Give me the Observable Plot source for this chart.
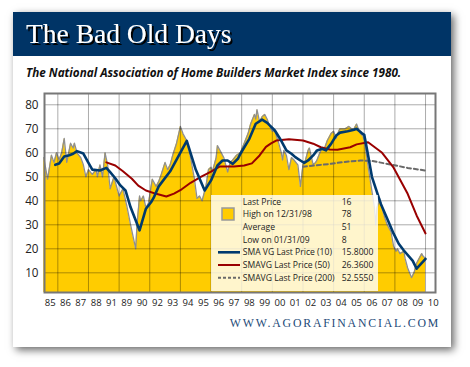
<!DOCTYPE html>
<html><head><meta charset="utf-8">
<script src="https://cdn.jsdelivr.net/npm/d3@7"></script>
<script src="https://cdn.jsdelivr.net/npm/@observablehq/plot@0.6"></script>
<style>
html,body{margin:0;padding:0;background:#fff;}
#page{position:relative;width:470px;height:367px;overflow:hidden;background:#fff;}
#card{position:absolute;left:13px;top:12px;width:438px;height:335px;background:#fff;box-shadow:3px 3px 8px rgba(0,0,0,0.6);}
#header{position:absolute;left:13px;top:12px;width:438px;height:44px;background:#003466;}
#chart{position:absolute;left:0;top:0;}
#overlay{position:absolute;left:0;top:0;}
</style>
</head><body>
<div id="page">
  <div id="card"></div>
  <div id="header"></div>
  <div id="chart"></div>
  <svg id="overlay" width="470" height="367">
    <defs>
      <filter id="shadow" x="-5%" y="-20%" width="115%" height="150%">
        <feDropShadow dx="2" dy="2" stdDeviation="0.6" flood-color="#000" flood-opacity="1"/>
      </filter>
    </defs>
  </svg>
</div>
<script>
// ---- data (monthly NAHB index) ----
const hmiMonths = ["1985-01","1985-04","1985-07","1985-09","1985-11","1986-01","1986-03","1986-05","1986-07","1986-10","1986-12","1987-01","1987-03","1987-06","1987-08","1987-10","1987-12","1988-03","1988-06","1988-07","1988-09","1988-11","1989-01","1989-03","1989-05","1989-08","1989-12","1990-03","1990-06","1990-09","1991-01","1991-02","1991-04","1991-05","1991-07","1991-09","1991-11","1992-02","1992-05","1992-07","1992-09","1992-12","1993-02","1993-04","1993-06","1993-09","1993-12","1994-02","1994-05","1994-08","1994-11","1995-01","1995-03","1995-05","1995-08","1995-10","1995-12","1996-01","1996-04","1996-05","1996-07","1996-10","1996-11","1997-01","1997-03","1997-05","1997-08","1997-11","1998-02","1998-05","1998-07","1998-10","1998-11","1998-12","1999-02","1999-04","1999-06","1999-08","1999-10","1999-12","2000-02","2000-05","2000-07","2000-08","2000-09","2000-11","2001-01","2001-03","2001-05","2001-08","2001-10","2001-12","2002-02","2002-04","2002-05","2002-08","2002-10","2002-11","2003-02","2003-05","2003-07","2003-10","2003-12","2004-02","2004-04","2004-05","2004-09","2004-12","2005-02","2005-04","2005-06","2005-08","2005-09","2005-11","2005-12","2006-02","2006-04","2006-06","2006-08","2006-09","2006-10","2006-12","2007-02","2007-04","2007-06","2007-09","2007-11","2008-01","2008-02","2008-04","2008-07","2008-08","2008-10","2009-01","2009-03","2009-05","2009-07","2009-09","2009-10","2009-12"];
const hmiValues = [58,49,59,56,60,57,60,66,56,64,62,64,60,58,55,50,53,51,53,50,55,50,60,55,45,50,42,45,38,30,20,30,42,40,42,37,39,49,46,48,51,56,53,55,59,64,71,68,65,58,49,41,42,40,46,53,54,52,58,63,61,58,56,52,56,57,59,60,64,68,72,76,74,78,73,75,76,74,71,69,69,64,60,57,61,59,53,58,57,55,46,55,57,61,62,55,56,57,61,62,65,68,69,66,69,70,70,71,70,70,72,69,68,67,65,58,51,44,37,30,37,41,37,33,30,27,21,19,20,18,19,16,12,8,10,14,16,18,17,16];

const sma10Months = ["1985-10","1986-01","1986-05","1986-09","1986-12","1987-03","1987-08","1987-12","1988-03","1988-09","1989-02","1989-05","1989-09","1990-01","1990-05","1990-09","1991-04","1991-09","1992-01","1992-03","1992-07","1993-04","1994-05","1994-12","1995-07","1995-12","1996-05","1996-09","1997-01","1997-05","1997-09","1997-11","1998-06","1998-11","1999-04","1999-08","1999-10","2000-02","2000-07","2000-11","2001-03","2001-06","2001-10","2002-01","2002-04","2002-08","2002-11","2003-03","2003-06","2003-10","2004-02","2004-05","2004-11","2005-04","2005-06","2005-10","2005-12","2006-03","2006-06","2007-01","2007-06","2007-11","2008-03","2008-07","2009-02","2009-05","2009-12"];
const sma10Values = [55,55.5,58.5,59,59.6,60.7,59.7,55.8,53,52.6,53.7,51.9,49.4,46.4,44.3,37.3,27.7,36.7,39.4,41.2,46,52.3,65,53,44.3,48.5,54.7,56.8,56.8,55.4,57.5,59.6,65.8,72.1,73.8,72.5,71.4,69.3,65,61,59.6,58.2,56.8,55.8,56.8,58.9,61,61.7,61,63.7,67.2,68.4,69,69.6,70,68.2,67.5,59,50,38.7,32.5,26.3,22.1,19.3,15,11.7,15.8];

const sma50Months = ["1989-02","1989-09","1990-03","1990-10","1991-03","1991-09","1992-05","1993-01","1993-07","1994-01","1994-08","1995-04","1995-12","1996-07","1997-06","1998-02","1998-08","1999-02","1999-07","1999-11","2000-03","2001-01","2001-12","2002-08","2003-02","2003-09","2004-03","2004-07","2005-01","2005-06","2006-03","2007-02","2007-11","2008-10","2009-05","2009-12"];
const sma50Values = [56,54.7,52.3,49.2,46.3,44.3,42.9,41.8,43,44.8,47.5,50,52.2,54.3,54.3,54.7,55.6,58.9,62.5,63.9,65.1,65.6,65.1,63.8,62.3,61.4,61.3,61.7,62.3,63.5,64.4,60,53.8,42.9,33.9,26.4];

const sma200Months = ["2001-12","2003-10","2004-07","2005-09","2006-06","2007-09","2008-10","2009-12"];
const sma200Values = [54.2,55.4,56.1,56.8,56.6,55.1,53.7,52.6];

const xTickLabels = ["85","86","87","88","91","89","90","92","93","94","95","96","97","98","99","00","01","02","03","04","05","06","07","08","09","10"];
const yTicks = [10,20,30,40,50,60,70,80];
const gridYears = [1986,1988,1990,1992,1994,1996,1998,2000,2002,2004,2006,2008,2010];

const legendLabels = ["Last Price","High on 12/31/98","Average","Low on 01/31/09","SMA VG Last Price (10)","SMAVG Last Price (50)","SMAVG Last Price (200)"];
const legendValues = ["16","78","51","8","15.8000","26.3600","52.5550"];

// ---- build ----
const toT = s => { const [y, m] = s.split("-").map(Number); return y + m / 12; };
const series = (months, values) => months.map((m, i) => ({t: toT(m), v: values[i]}));
const hmi = series(hmiMonths, hmiValues);
const sma10 = series(sma10Months, sma10Values);
const sma50 = series(sma50Months, sma50Values);
const sma200 = series(sma200Months, sma200Values);
const xTickPos = xTickLabels.map((_, i) => 1985.5 + i);
const labelMap = new Map(xTickPos.map((p, i) => [p, xTickLabels[i]]));

const X_DOMAIN = [1985.13, 2010.65];
const Y_DOMAIN = [1.8, 84.7];

const chart = Plot.plot({
  width: 470, height: 367,
  marginLeft: 44, marginRight: 35, marginTop: 93, marginBottom: 75,
  style: {background: "transparent", fontFamily: "'Open Sans', sans-serif", color: "#222", overflow: "visible"},
  x: {domain: X_DOMAIN, label: null},
  y: {domain: Y_DOMAIN, label: null},
  marks: [
    Plot.areaY(hmi, {x: "t", y1: () => Y_DOMAIN[0], y2: "v", fill: "#FFCC00"}),
    Plot.lineY(hmi, {x: "t", y: "v", stroke: "#8f8f8f", strokeWidth: 1.3}),
    Plot.ruleY(yTicks, {stroke: "#000", strokeOpacity: 0.33}),
    Plot.ruleX(gridYears, {stroke: "#000", strokeOpacity: 0.33}),
    Plot.lineY(sma200, {x: "t", y: "v", stroke: "#6a6a6a", strokeWidth: 2, strokeDasharray: "4,3"}),
    Plot.lineY(sma50, {x: "t", y: "v", stroke: "#990000", strokeWidth: 2}),
    Plot.lineY(sma10, {x: "t", y: "v", stroke: "#003a6e", strokeWidth: 2.6}),
    Plot.frame({stroke: "#777", strokeWidth: 2}),
    Plot.axisX(xTickPos, {tickSize: 0, tickPadding: 7, tickFormat: d => labelMap.get(d), fontSize: 9.5, fill: "#222", label: null}),
    Plot.axisY(yTicks, {tickSize: 0, tickPadding: 6, fontSize: 11.7, fill: "#222", label: null})
  ]
});
document.getElementById("chart").appendChild(chart);

// ---- titles, legend, credit ----
const ov = d3.select("#overlay");
ov.append("text").attr("x", 26).attr("y", 43.3)
  .attr("font-family", "'Liberation Serif', serif").attr("font-size", 27.5)
  .attr("fill", "#fff").attr("filter", "url(#shadow)").text("The Bad Old Days");
ov.append("text").attr("x", 26).attr("y", 76.5)
  .attr("font-family", "'Open Sans', sans-serif").attr("font-size", 11.7)
  .attr("font-weight", "bold").attr("font-style", "italic").attr("fill", "#111")
  .text("The National Association of Home Builders Market Index since 1980.");
ov.append("text").attr("x", 440).attr("y", 327.3).attr("text-anchor", "end")
  .attr("font-family", "'Liberation Serif', serif").attr("font-size", 11.8)
  .attr("letter-spacing", 1.8).attr("fill", "#1d4a78")
  .text("WWW.AGORAFINANCIAL.COM");

// legend box
ov.append("rect").attr("x", 211).attr("y", 195).attr("width", 167).attr("height", 96)
  .attr("fill", "#fff").attr("fill-opacity", 0.8);
ov.append("rect").attr("x", 222).attr("y", 208).attr("width", 12).attr("height", 12)
  .attr("fill", "#FFCC00").attr("stroke", "#999").attr("stroke-width", 1.5);
const base0 = 204.5, step = 12.7;
const sample = [null, null, null, null,
  {stroke: "#003a6e", w: 2.6, dash: null},
  {stroke: "#990000", w: 2, dash: null},
  {stroke: "#6a6a6a", w: 2, dash: "3,2"}];
legendLabels.forEach((lab, i) => {
  const y = base0 + i * step;
  ov.append("text").attr("x", 242.7).attr("y", y)
    .attr("font-family", "'Open Sans', sans-serif").attr("font-size", 8.6).attr("fill", "#222").text(lab);
  ov.append("text").attr("x", 341.7).attr("y", y)
    .attr("font-family", "'Open Sans', sans-serif").attr("font-size", 8.6).attr("fill", "#222").text(legendValues[i]);
  const s = sample[i];
  if (s) {
    const ln = ov.append("line").attr("x1", 218).attr("x2", 240).attr("y1", y - 3).attr("y2", y - 3)
      .attr("stroke", s.stroke).attr("stroke-width", s.w);
    if (s.dash) ln.attr("stroke-dasharray", s.dash);
  }
});
</script>
</body></html>
